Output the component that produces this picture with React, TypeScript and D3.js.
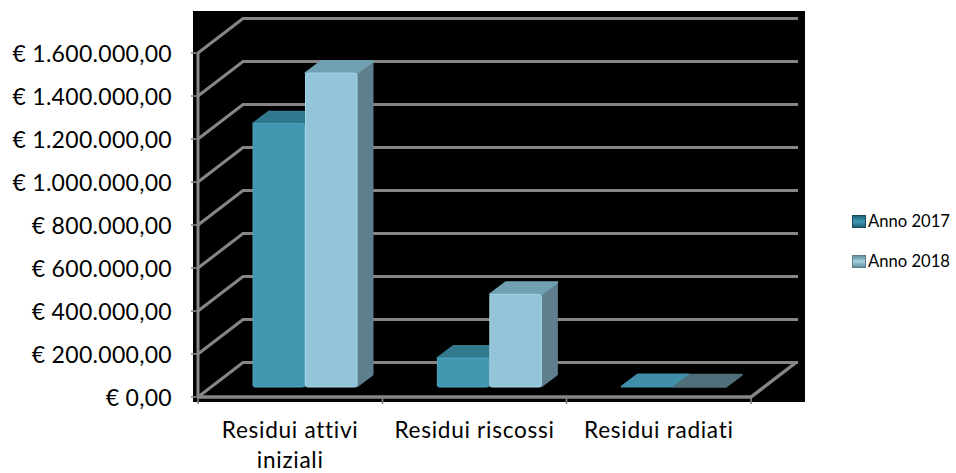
import React from "react";
import * as d3 from "d3";

const categories = ["Residui attivi iniziali", "Residui riscossi", "Residui radiati"];
const categoryLines = [["Residui attivi", "iniziali"], ["Residui riscossi"], ["Residui radiati"]];
const seriesNames = ["Anno 2017", "Anno 2018"];
const anno2017 = [1225000, 135000, 2500];
const anno2018 = [1460000, 431000, 600];
const tickValues = [0, 200000, 400000, 600000, 800000, 1000000, 1200000, 1400000, 1600000];
const tickLabels = ["€ 0,00", "€ 200.000,00", "€ 400.000,00", "€ 600.000,00", "€ 800.000,00", "€ 1.000.000,00", "€ 1.200.000,00", "€ 1.400.000,00", "€ 1.600.000,00"];

const W = 956, H = 473;
const FONT = "Lato, 'Open Sans', sans-serif";
const GRID = "#868686";
const y = d3.scaleLinear().domain([0, 1600000]).range([397, 53]);
const x0 = d3.scaleBand<string>().domain(categories).range([198, 751]);
const depth = { dx: 45, dy: -34.5 };
const barDepth = { dx: 16, dy: -12 };
const barWidth = 51.5;
const barGap = 1;
const barShift = { dx: 10, dy: -10 };

const palette = [
  { front: "#4297b1", edge: "#4fa5bf", top: "#33798f", side: "#2a6376" },
  { front: "#93c4d8", edge: "#a4d6e8", top: "#6fa0b2", side: "#5f7f8d" },
];

const pts = (a: number[][]) => a.map((p) => p.join(",")).join(" ");

export default function App() {
  const series = [anno2017, anno2018];
  return (
    <svg width={W} height={H} viewBox={`0 0 ${W} ${H}`} style={{ position: "absolute", left: 0, top: 0, background: "#fff" }}>
      <defs>
        <filter id="soft" x="-5%" y="-5%" width="110%" height="110%">
          <feGaussianBlur stdDeviation="0.55" />
        </filter>
        <linearGradient id="l0" x1="0" y1="0" x2="0" y2="1">
          <stop offset="0" stopColor="#1f5d73" />
          <stop offset="0.5" stopColor="#3f9ab8" />
          <stop offset="1" stopColor="#1f5d73" />
        </linearGradient>
        <linearGradient id="l1" x1="0" y1="0" x2="0" y2="1">
          <stop offset="0" stopColor="#5f8a9b" />
          <stop offset="0.5" stopColor="#a4d0e0" />
          <stop offset="1" stopColor="#5f8a9b" />
        </linearGradient>
      </defs>

      <rect x={193} y={11} width={612} height={391} fill="#000" />

      <g filter="url(#soft)">
        {/* gridlines */}
        {tickValues.map((v) => (
          <polyline
            key={v}
            points={pts([[198, y(v)], [198 + depth.dx, y(v) + depth.dy], [798, y(v) + depth.dy]])}
            fill="none"
            stroke={GRID}
            strokeWidth={3}
          />
        ))}
        {/* axes */}
        <line x1={198} x2={198} y1={y(1600000)} y2={y(0)} stroke={GRID} strokeWidth={3} />
        <polyline points={pts([[198, y(0)], [751, y(0)], [751 + depth.dx, y(0) + depth.dy]])} fill="none" stroke={GRID} strokeWidth={3.4} />
        {tickValues.map((v) => (
          <line key={v} x1={191} x2={198} y1={y(v)} y2={y(v)} stroke={GRID} strokeWidth={1.6} />
        ))}
        {[198, 382.5, 566.5, 751].map((t) => (
          <line key={t} x1={t} x2={t} y1={397} y2={404} stroke={GRID} strokeWidth={1.6} />
        ))}

        {/* bars */}
        {categories.map((c, ci) =>
          series.map((vals, si) => {
            const left = (x0(c) as number) + 55 + si * (barWidth + barGap);
            const right = left + barWidth;
            const base = y(0) + barShift.dy;
            const top = base - (y(0) - y(vals[ci]));
            const col = palette[si];
            const flat = base - top < 3;
            const dx = barDepth.dx, dy = barDepth.dy;
            const darkFlat = flat && si === 1;
            return (
              <g key={c + si}>
                <polygon points={pts([[right, top], [right + dx, top + dy], [right + dx, base + dy], [right, base]])} fill={col.side} stroke={col.side} strokeWidth={1} strokeLinejoin="round" />
                <polygon
                  points={pts([[left, top], [left + dx, top + dy], [right + dx, top + dy], [right, top]])}
                  fill={darkFlat ? "#4f6f7a" : flat ? "#3f8ea8" : col.top}
                  stroke={darkFlat ? "#4f6f7a" : flat ? "#3f8ea8" : col.top}
                  strokeWidth={2}
                  strokeLinejoin="round"
                />
                {!flat && (
                  <rect x={left} y={top} width={barWidth} height={base - top} rx={2} fill={col.front} stroke={col.edge} strokeWidth={1} />
                )}
              </g>
            );
          })
        )}
      </g>

      {/* y labels */}
      {tickValues.map((v, i) => (
        <text key={v} x={172} y={y(v) + 8.7} textAnchor="end" fontFamily={FONT} fontSize={23} letterSpacing={0.3} fill="#000">
          {tickLabels[i]}
        </text>
      ))}

      {/* x labels */}
      {categories.map((c, i) =>
        categoryLines[i].map((ln, li) => (
          <text key={ln} x={(x0(c) as number) + x0.bandwidth() / 2} y={438 + li * 30} textAnchor="middle" fontFamily={FONT} fontSize={22.6} letterSpacing={0.7} fill="#000">
            {ln}
          </text>
        ))
      )}

      {/* legend */}
      {seriesNames.map((s, i) => {
        const ly = 221 + i * 40;
        return (
          <g key={s}>
            <rect x={852.5} y={ly - 5.5} width={13} height={12} fill={`url(#l${i})`} stroke={i === 0 ? "#17495b" : "#5b7d8a"} strokeWidth={1} />
            <text x={868} y={ly + 6} fontFamily={FONT} fontSize={16.6} fill="#000">{s}</text>
          </g>
        );
      })}
    </svg>
  );
}
